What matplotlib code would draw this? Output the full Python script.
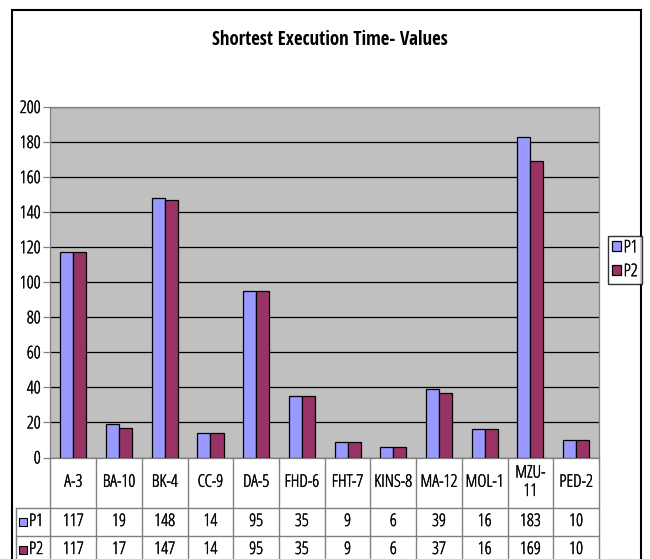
import matplotlib
matplotlib.use('Agg')
import matplotlib.pyplot as plt
import matplotlib.patheffects as pe
from matplotlib.patches import Rectangle
import numpy as np

categories = ['A-3', 'BA-10', 'BK-4', 'CC-9', 'DA-5', 'FHD-6', 'FHT-7', 'KINS-8',
              'MA-12', 'MOL-1', 'MZU-11', 'PED-2']
cat_labels = ['A-3', 'BA-10', 'BK-4', 'CC-9', 'DA-5', 'FHD-6', 'FHT-7', 'KINS-8',
              'MA-12', 'MOL-1', 'MZU-\n11', 'PED-2']
p1 = [117, 19, 148, 14, 95, 35, 9, 6, 39, 16, 183, 10]
p2 = [117, 17, 147, 14, 95, 35, 9, 6, 37, 16, 169, 10]
series_names = ['P1', 'P2']
y_ticks = [0, 20, 40, 60, 80, 100, 120, 140, 160, 180, 200]
title = 'Shortest Execution Time- Values'

colors = ['#9999FF', '#993366']
plt.rcParams['font.family'] = ['Open Sans', 'DejaVu Sans']
plt.rcParams['font.stretch'] = 'condensed'
plt.rcParams['font.weight'] = 300
FS = 12.5
thick = [pe.withStroke(linewidth=0.35, foreground='#222222')]

W, H = 650, 559
fig = plt.figure(figsize=(6.5, 5.59), dpi=100)


def px(x0, y0, x1, y1):
    return [x0 / W, 1 - y1 / H, (x1 - x0) / W, (y1 - y0) / H]


# outer frame
fig.patches.append(Rectangle((12 / W, -0.05), (641 - 12) / W, 1.05 - 10 / H,
                             transform=fig.transFigure, fill=False,
                             edgecolor='black', linewidth=1.5))

PL, PT, PR, PB = 50.5, 107, 599, 457.5
ax = fig.add_axes(px(PL, PT, PR, PB))
ax.set_facecolor('#C0C0C0')
n = len(categories)
x = np.arange(n)
bw = 1 / 3.5
bars1 = ax.bar(x - bw / 2, p1, bw, color=colors[0], edgecolor='black', linewidth=0.9,
               label=series_names[0], zorder=3)
bars2 = ax.bar(x + bw / 2, p2, bw, color=colors[1], edgecolor='black', linewidth=0.9,
               label=series_names[1], zorder=3)
ax.set_xlim(-0.5, n - 0.5)
ax.set_ylim(0, 200)
ax.set_yticks(y_ticks)
ax.yaxis.grid(True, color='black', linewidth=0.9, zorder=1)
ax.set_axisbelow(True)
ax.set_xticks([])
ax.tick_params(axis='y', length=5, width=0.9, color='#808080', labelsize=FS, pad=2)
for t in ax.get_yticklabels():
    t.set_path_effects(thick)
for s in ['top', 'right', 'left', 'bottom']:
    ax.spines[s].set_color('#808080')
    ax.spines[s].set_linewidth(0.9)

fig.text(330 / W, 1 - 40 / H, title, ha='center', va='center', fontsize=13.6,
         family='Open Sans Condensed', fontweight='bold', fontstretch='condensed')

# data table
TB = 559
tab = fig.add_axes(px(16, PB, PR, TB))
cat_w = (PR - PL) / n
x_left = -0.5 - (PL - 16) / cat_w
tab.set_xlim(x_left, n - 0.5)
tab.set_ylim(TB, PB)
tab.axis('off')
row_y = [PB, 508, 536, 564]
lc = '#808080'
for k in range(n + 1):
    tab.plot([k - 0.5, k - 0.5], [PB, TB], color=lc, lw=1, clip_on=False)
tab.plot([x_left, x_left], [row_y[1], TB], color=lc, lw=1, clip_on=False)
for yy in row_y[1:3]:
    tab.plot([x_left, n - 0.5], [yy, yy], color=lc, lw=1, clip_on=False)
for i, lab in enumerate(cat_labels):
    tab.text(i, (row_y[0] + row_y[1]) / 2, lab, ha='center', va='center',
             fontsize=FS, linespacing=1.2, path_effects=thick)
for r, vals in enumerate([p1, p2]):
    yc = (row_y[r + 1] + row_y[r + 2]) / 2
    for i, v in enumerate(vals):
        tab.text(i, yc, str(v), ha='center', va='center', fontsize=FS, path_effects=thick)
    kx = x_left + 3 / cat_w
    tab.add_patch(Rectangle((kx, yc - 4), 8 / cat_w, 8, facecolor=colors[r],
                            edgecolor='black', lw=0.8, clip_on=False))
    tab.text(kx + 10 / cat_w, yc, series_names[r], ha='left', va='center', fontsize=FS,
             path_effects=thick)

# legend
leg = fig.legend(handles=[bars1, bars2], labels=series_names,
                 loc='upper left', bbox_to_anchor=(608 / W, 1 - 236 / H),
                 fontsize=FS, frameon=True, fancybox=False, edgecolor='black',
                 handlelength=0.5, handleheight=0.5, handletextpad=0.15,
                 borderpad=0.25, labelspacing=0.45, borderaxespad=0)
for t in leg.get_texts():
    t.set_path_effects(thick)

fig.savefig('out.png', dpi=100, facecolor='white')
